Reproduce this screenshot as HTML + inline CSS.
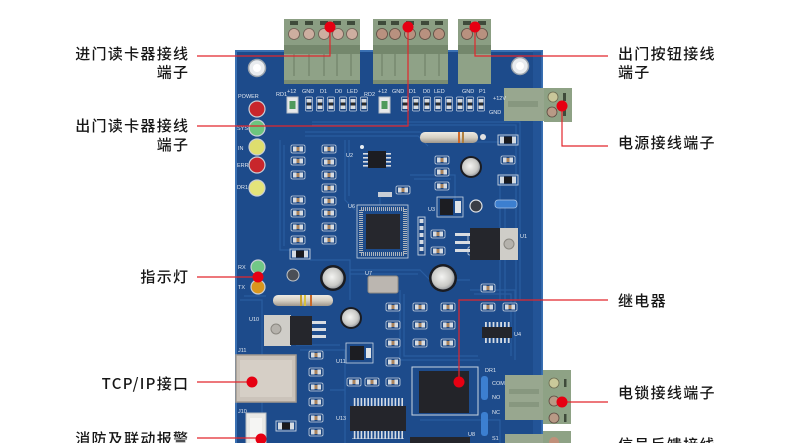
<!DOCTYPE html>
<html><head><meta charset="utf-8"><style>
html,body{margin:0;padding:0;background:#fff;}
body{width:790px;height:443px;overflow:hidden;}
svg{display:block;}
.lb{font-family:"Liberation Sans","Noto Sans CJK SC",sans-serif;font-size:15px;fill:#161616;letter-spacing:1.3px;font-weight:500;}
.cj{font-family:"Noto Sans CJK SC","WenQuanYi Zen Hei",sans-serif;}
.s{font-family:"Liberation Sans",sans-serif;font-size:5.5px;fill:#dfe6ef;}
</style></head><body>
<svg width="790" height="443" viewBox="0 0 790 443" xmlns="http://www.w3.org/2000/svg">
<defs>
<g id="p"><rect x="-7" y="-4" width="14" height="8" rx="1.5" fill="#1b4580" stroke="#c9d4e2" stroke-width="0.8"/><rect x="-5" y="-2.5" width="3.5" height="5" fill="#d6dce3"/><rect x="1.5" y="-2.5" width="3.5" height="5" fill="#d6dce3"/><rect x="-1.5" y="-2" width="3" height="4" fill="#a8825c"/></g>
<g id="v"><rect x="-3.5" y="-7" width="7" height="14" rx="1" fill="#1b4580" stroke="#c9d4e2" stroke-width="0.7"/><rect x="-2.5" y="-5" width="5" height="3.5" fill="#d6dce3"/><rect x="-2.5" y="1.5" width="5" height="3.5" fill="#d6dce3"/><rect x="-2" y="-1.5" width="4" height="3" fill="#2a2a2a"/></g>
<g id="t"><rect x="-10" y="-5" width="20" height="10" fill="none" stroke="#c9d4e2" stroke-width="0.9"/><rect x="-8" y="-3.5" width="4" height="7" fill="#d6dce3"/><rect x="4" y="-3.5" width="4" height="7" fill="#d6dce3"/><rect x="-4" y="-3.5" width="8" height="7" fill="#1a1a1e"/></g>
<radialGradient id="cap" cx="0.45" cy="0.45" r="0.6"><stop offset="0" stop-color="#f4f4f2"/><stop offset="0.7" stop-color="#c9c9c6"/><stop offset="1" stop-color="#8b8f96"/></radialGradient>
<linearGradient id="res" x1="0" y1="0" x2="0" y2="1"><stop offset="0" stop-color="#eeeae2"/><stop offset="0.5" stop-color="#d6d0c4"/><stop offset="1" stop-color="#9e978c"/></linearGradient>
</defs>

<!-- Board -->
<rect x="236" y="51" width="306" height="400" fill="#1d4b8b"/>
<rect x="236" y="51" width="306" height="400" fill="none" stroke="#3a70b2" stroke-width="2"/>
<rect x="533" y="51" width="9" height="400" fill="#2a5ea4" opacity="0.5"/>
<!-- traces -->
<g fill="none" stroke="#2b5fa3" stroke-width="1.2" opacity="0.9">
<path d="M312 122 H520 V300"/><path d="M312 125 H516 V300"/>
<path d="M305 132 H420 L430 142 H500"/><path d="M305 136 H418 L428 146"/>
<path d="M280 140 V250 H300"/><path d="M284 145 V246"/>
<path d="M345 140 V200 L355 210"/><path d="M349 140 V196"/>
<path d="M350 270 H420 L430 280 H470"/><path d="M350 274 H418"/>
<path d="M300 350 H345 V395"/><path d="M296 345 H340"/>
<path d="M400 290 V360 H480"/><path d="M404 294 V356 H478"/>
<path d="M470 290 H515 V360"/><path d="M474 294 H511 V356"/>
<path d="M410 175 H455 V200"/><path d="M414 179 H451"/>
<path d="M240 300 H262 V440"/><path d="M244 296 H266"/>
<path d="M380 195 V205"/><path d="M310 260 H350 V300"/>
<path d="M500 180 V300"/><path d="M505 200 V300 H525"/>
<path d="M420 420 H500 V443"/><path d="M330 390 H345 V443"/>
</g>

<!-- mounting holes -->
<circle cx="257" cy="68" r="8.5" fill="#e9ecef" stroke="#9aa3ad" stroke-width="1.5"/><circle cx="257" cy="68" r="4" fill="#fff"/>
<circle cx="520" cy="66" r="8.5" fill="#e9ecef" stroke="#9aa3ad" stroke-width="1.5"/><circle cx="520" cy="66" r="4" fill="#fff"/>

<!-- Terminal blocks top -->
<g>
<rect x="284" y="19" width="76" height="26" fill="#8b9e83"/>
<rect x="284" y="45" width="76" height="9" fill="#74876c"/>
<rect x="284" y="54" width="76" height="30" fill="#8fa287"/>
<rect x="284" y="80" width="76" height="4" fill="#7a8c72"/>
<g fill="#3e4a3a"><rect x="290" y="21" width="8" height="4"/><rect x="305" y="21" width="8" height="4"/><rect x="320" y="21" width="8" height="4"/><rect x="333" y="21" width="8" height="4"/><rect x="347" y="21" width="8" height="4"/></g>
<g fill="#7d8f75"><rect x="293" y="54" width="2" height="22"/><rect x="308" y="54" width="2" height="22"/><rect x="323" y="54" width="2" height="22"/><rect x="336" y="54" width="2" height="22"/><rect x="350" y="54" width="2" height="22"/></g>
<g fill="#cdaea0" stroke="#6e5b52" stroke-width="0.8"><circle cx="294" cy="34" r="5.5"/><circle cx="309" cy="34" r="5.5"/><circle cx="324" cy="34" r="5.5"/><circle cx="338" cy="34" r="5.5"/><circle cx="352" cy="34" r="5.5"/></g>

<rect x="373" y="19" width="75" height="26" fill="#8b9e83"/>
<rect x="373" y="45" width="75" height="9" fill="#74876c"/>
<rect x="373" y="54" width="75" height="30" fill="#8fa287"/>
<rect x="373" y="80" width="75" height="4" fill="#7a8c72"/>
<g fill="#3e4a3a"><rect x="378" y="21" width="8" height="4"/><rect x="391" y="21" width="8" height="4"/><rect x="406" y="21" width="8" height="4"/><rect x="421" y="21" width="8" height="4"/><rect x="435" y="21" width="8" height="4"/></g>
<g fill="#7d8f75"><rect x="381" y="54" width="2" height="22"/><rect x="394" y="54" width="2" height="22"/><rect x="424" y="54" width="2" height="22"/><rect x="438" y="54" width="2" height="22"/></g>
<g fill="#b8917f" stroke="#5e4b42" stroke-width="0.8"><circle cx="382" cy="34" r="5.5"/><circle cx="395" cy="34" r="5.5"/><circle cx="410" cy="34" r="5.5"/><circle cx="425" cy="34" r="5.5"/><circle cx="439" cy="34" r="5.5"/></g>

<rect x="458" y="19" width="33" height="26" fill="#8b9e83"/>
<rect x="458" y="45" width="33" height="9" fill="#74876c"/>
<rect x="458" y="54" width="33" height="30" fill="#8fa287"/>
<g fill="#3e4a3a"><rect x="463" y="21" width="8" height="4"/><rect x="478" y="21" width="8" height="4"/></g>
<g fill="#b8917f" stroke="#5e4b42" stroke-width="0.8"><circle cx="467" cy="34" r="5.5"/><circle cx="482" cy="34" r="5.5"/></g>
</g>

<!-- Power terminal -->
<rect x="504" y="88" width="40" height="33" fill="#98a78f"/>
<rect x="508" y="101" width="30" height="6" fill="#87977f"/>
<rect x="544" y="88" width="28" height="34" fill="#8ea285"/>
<circle cx="553" cy="97" r="5" fill="#c9c79a" stroke="#6b6a50" stroke-width="0.8"/>
<circle cx="552" cy="112" r="5" fill="#b89a86" stroke="#5e4b42" stroke-width="0.8"/>
<rect x="563" y="93" width="3" height="8" fill="#3e4a3a"/><rect x="563" y="108" width="3" height="8" fill="#3e4a3a"/>

<!-- Lock terminal -->
<rect x="505" y="375" width="38" height="45" fill="#98a78f"/>
<rect x="509" y="389" width="30" height="5" fill="#87977f"/><rect x="509" y="402" width="30" height="5" fill="#87977f"/>
<rect x="543" y="370" width="28" height="54" fill="#8ea285"/>
<circle cx="554" cy="383" r="5" fill="#c9c99a" stroke="#6b6a50" stroke-width="0.8"/>
<circle cx="554" cy="401" r="5" fill="#b89a86" stroke="#5e4b42" stroke-width="0.8"/>
<circle cx="554" cy="418" r="5" fill="#b89a86" stroke="#5e4b42" stroke-width="0.8"/>
<rect x="564" y="379" width="2.5" height="8" fill="#3e4a3a"/><rect x="564" y="414" width="2.5" height="8" fill="#3e4a3a"/>
<!-- bottom partial terminal -->
<rect x="505" y="434" width="38" height="12" fill="#98a78f"/>
<rect x="543" y="431" width="28" height="15" fill="#8ea285"/>
<circle cx="554" cy="442" r="5" fill="#c0907a"/>

<!-- Silk labels -->
<text class="s" x="287" y="93">+12</text><text class="s" x="302" y="93">GND</text><text class="s" x="320" y="93">D1</text><text class="s" x="335" y="93">D0</text><text class="s" x="347" y="93">LED</text>
<text class="s" x="276" y="96">RD1</text><text class="s" x="364" y="96">RD2</text>
<text class="s" x="378" y="93">+12</text><text class="s" x="392" y="93">GND</text><text class="s" x="409" y="93">D1</text><text class="s" x="423" y="93">D0</text><text class="s" x="434" y="93">LED</text>
<text class="s" x="462" y="93">GND</text><text class="s" x="479" y="93">P1</text>
<text class="s" x="493" y="100">+12V</text><text class="s" x="489" y="114">GND</text>
<text class="s" x="238" y="98">POWER</text><text class="s" x="237" y="130">SYS</text><text class="s" x="238" y="150">IN</text><text class="s" x="237" y="167">ERR</text><text class="s" x="237" y="189">DR1</text>
<text class="s" x="238" y="269">RX</text><text class="s" x="238" y="289">TX</text>
<text class="s" x="346" y="157">U2</text><text class="s" x="348" y="208">U6</text><text class="s" x="365" y="275">U7</text><text class="s" x="520" y="238">U1</text>
<text class="s" x="249" y="321">U10</text><text class="s" x="238" y="352">J11</text><text class="s" x="238" y="413">J10</text><text class="s" x="336" y="420">U13</text>
<text class="s" x="336" y="363">U11</text><text class="s" x="428" y="211">U3</text><text class="s" x="514" y="336">U4</text>
<text class="s" x="485" y="372">DR1</text><text class="s" x="492" y="385">COM</text><text class="s" x="492" y="399">NO</text><text class="s" x="492" y="414">NC</text><text class="s" x="468" y="436">U8</text><text class="s" x="492" y="440">S1</text>

<!-- fuses -->
<rect x="287" y="97" width="11" height="16" fill="#e6e8ea" stroke="#b9c0c8"/><rect x="289.5" y="101" width="6" height="8" fill="#4f9a5c"/>
<rect x="379" y="97" width="11" height="16" fill="#e6e8ea" stroke="#b9c0c8"/><rect x="381.5" y="101" width="6" height="8" fill="#4f9a5c"/>
<!-- small resistor row -->
<use href="#v" x="309" y="104"/><use href="#v" x="320" y="104"/><use href="#v" x="331" y="104"/><use href="#v" x="343" y="104"/><use href="#v" x="353" y="104"/><use href="#v" x="364" y="104"/>
<use href="#v" x="405" y="104"/><use href="#v" x="416" y="104"/><use href="#v" x="427" y="104"/><use href="#v" x="438" y="104"/><use href="#v" x="449" y="104"/><use href="#v" x="460" y="104"/><use href="#v" x="470" y="104"/><use href="#v" x="481" y="104"/>

<!-- LEDs -->
<g stroke="#c9ced6" stroke-width="1.2">
<circle cx="257" cy="109" r="8" fill="#c8262c"/>
<circle cx="257" cy="128" r="8" fill="#6cc57e"/>
<circle cx="257" cy="147" r="8" fill="#dede6e"/>
<circle cx="257" cy="165" r="8" fill="#c8262c"/>
<circle cx="257" cy="188" r="8" fill="#e4e47a"/>
<circle cx="258" cy="267" r="7" fill="#72c886"/>
<circle cx="258" cy="287" r="7" fill="#d9961e"/>
</g>

<!-- pads columns -->
<use href="#p" x="298" y="149"/><use href="#p" x="298" y="161"/><use href="#p" x="298" y="175"/><use href="#p" x="298" y="200"/><use href="#p" x="298" y="213"/><use href="#p" x="298" y="227"/><use href="#p" x="298" y="240"/>
<use href="#p" x="329" y="149"/><use href="#p" x="329" y="162"/><use href="#p" x="329" y="175"/><use href="#p" x="329" y="188"/><use href="#p" x="329" y="201"/><use href="#p" x="329" y="213"/><use href="#p" x="329" y="227"/><use href="#p" x="329" y="240"/>
<use href="#t" x="300" y="254"/>
<use href="#p" x="316" y="355"/><use href="#p" x="316" y="372"/><use href="#p" x="316" y="387"/><use href="#p" x="316" y="402"/><use href="#p" x="316" y="418"/><use href="#p" x="316" y="432"/>
<use href="#t" x="286" y="426"/>
<use href="#p" x="393" y="307"/><use href="#p" x="393" y="325"/><use href="#p" x="393" y="343"/><use href="#p" x="393" y="362"/><use href="#p" x="393" y="382"/>
<use href="#p" x="420" y="307"/><use href="#p" x="420" y="325"/><use href="#p" x="420" y="343"/>
<use href="#p" x="448" y="307"/><use href="#p" x="448" y="325"/><use href="#p" x="448" y="343"/>
<use href="#p" x="488" y="288"/><use href="#p" x="488" y="307"/><use href="#p" x="510" y="307"/>
<use href="#p" x="354" y="382"/><use href="#p" x="372" y="382"/>
<use href="#p" x="442" y="160"/><use href="#p" x="442" y="172"/><use href="#p" x="442" y="186"/><use href="#p" x="403" y="190"/>
<use href="#p" x="438" y="234"/><use href="#p" x="438" y="251"/><use href="#p" x="508" y="160"/><use href="#p" x="475" y="238"/><use href="#p" x="475" y="251"/>
<use href="#t" x="508" y="140"/><use href="#t" x="508" y="180"/>

<!-- big resistors -->
<rect x="420" y="132" width="58" height="11" rx="5" fill="url(#res)"/><rect x="458" y="132" width="2" height="11" fill="#d06a2a"/><rect x="462" y="132" width="2" height="11" fill="#b08040"/><circle cx="483" cy="137" r="3" fill="#e0e0e0"/>
<rect x="273" y="295" width="60" height="11" rx="5" fill="url(#res)"/><rect x="300" y="295" width="2" height="11" fill="#c8a030"/><rect x="304" y="295" width="2" height="11" fill="#d6c040"/><rect x="310" y="295" width="2" height="11" fill="#c86a2a"/>

<!-- electrolytic caps -->
<circle cx="471" cy="167" r="11" fill="#1a1c22"/><circle cx="471" cy="167" r="9" fill="url(#cap)"/>
<circle cx="443" cy="278" r="14" fill="#1a1c22"/><circle cx="443" cy="278" r="11.5" fill="url(#cap)"/>
<circle cx="333" cy="278" r="13" fill="#1a1c22"/><circle cx="333" cy="278" r="10.5" fill="url(#cap)"/>
<circle cx="351" cy="318" r="11" fill="#1a1c22"/><circle cx="351" cy="318" r="9" fill="url(#cap)"/>
<circle cx="293" cy="275" r="6" fill="#4a4e56" stroke="#c0c4c8"/>
<circle cx="476" cy="206" r="6" fill="#3a3e46" stroke="#dfe3e8" stroke-width="1.2"/>

<!-- U2 -->
<g fill="#d9dde2"><rect x="363" y="153" width="5" height="1.6"/><rect x="363" y="157" width="5" height="1.6"/><rect x="363" y="161" width="5" height="1.6"/><rect x="363" y="165" width="5" height="1.6"/><rect x="386" y="153" width="5" height="1.6"/><rect x="386" y="157" width="5" height="1.6"/><rect x="386" y="161" width="5" height="1.6"/><rect x="386" y="165" width="5" height="1.6"/></g>
<rect x="368" y="151" width="18" height="17" fill="#1c1d22"/>
<circle cx="362" cy="147" r="2" fill="#e8eef4"/>
<!-- U6 QFP -->
<rect x="357" y="205" width="51" height="53" fill="none" stroke="#c9d4e2" stroke-width="0.8"/>
<rect x="361" y="209" width="44" height="45" fill="none" stroke="#aeb4bc" stroke-width="4" stroke-dasharray="1 1"/>
<rect x="366" y="214" width="34" height="35" fill="#26272d"/>
<rect x="378" y="192" width="14" height="5" fill="#c9ced6"/>
<!-- header -->
<rect x="418" y="217" width="7" height="38" fill="#1b4684" stroke="#c9d4e2" stroke-width="0.9"/>
<g fill="#d6dce3"><rect x="419.5" y="219" width="4" height="4"/><rect x="419.5" y="226" width="4" height="4"/><rect x="419.5" y="233" width="4" height="4"/><rect x="419.5" y="240" width="4" height="4"/><rect x="419.5" y="247" width="4" height="4"/></g>
<!-- U3 -->
<rect x="437" y="197" width="26" height="20" fill="none" stroke="#c9d4e2" stroke-width="0.8"/><rect x="440" y="199" width="13" height="16" fill="#1c1d22"/><rect x="455" y="201" width="6" height="12" fill="#e0e4e8"/>
<!-- blue cap -->
<rect x="495" y="200" width="22" height="8" rx="3" fill="#3c7fd0" stroke="#a9c4e6" stroke-width="0.8"/>
<!-- U1 TO-220 -->
<g fill="#d9dde2"><rect x="455" y="233" width="16" height="3"/><rect x="455" y="241" width="16" height="3"/><rect x="455" y="249" width="16" height="3"/></g>
<rect x="470" y="228" width="30" height="32" fill="#25262c"/>
<rect x="500" y="228" width="18" height="32" fill="#cfcdc8"/><circle cx="509" cy="244" r="5" fill="#b5b2ac" stroke="#8a8780"/>
<!-- U7 crystal -->
<rect x="368" y="276" width="30" height="17" rx="2" fill="#bbb6b0" stroke="#8d8882"/>
<!-- U10 TO-220 -->
<rect x="264" y="315" width="27" height="31" fill="#cfcdc8"/><circle cx="276" cy="329" r="5" fill="#b5b2ac" stroke="#8a8780"/>
<rect x="290" y="316" width="22" height="29" fill="#25262c"/>
<g fill="#d9dde2"><rect x="312" y="321" width="14" height="3"/><rect x="312" y="328" width="14" height="3"/><rect x="312" y="335" width="14" height="3"/></g>
<!-- U11 -->
<rect x="346" y="343" width="27" height="20" fill="none" stroke="#c9d4e2" stroke-width="0.8"/><rect x="350" y="346" width="14" height="14" fill="#1c1d22"/><rect x="366" y="348" width="5" height="10" fill="#e0e4e8"/>
<!-- J11 -->
<rect x="236" y="355" width="60" height="47" fill="#cbc3ba" stroke="#a39a90" stroke-width="1.5"/>
<rect x="240" y="360" width="52" height="37" fill="#d6cfc6"/>
<!-- J10 -->
<rect x="246" y="413" width="20" height="32" fill="#e9e9e6" stroke="#b8bcc0"/>
<rect x="250" y="418" width="12" height="28" fill="#f5f5f3"/>
<!-- U13 -->
<rect x="352" y="398" width="52" height="9" fill="#d6dce3"/>
<line x1="352" y1="402" x2="404" y2="402" stroke="#1d4b8b" stroke-width="9" stroke-dasharray="1.8 1.6"/>
<rect x="352" y="430" width="52" height="9" fill="#d6dce3"/>
<line x1="352" y1="434" x2="404" y2="434" stroke="#1d4b8b" stroke-width="9" stroke-dasharray="1.8 1.6"/>
<rect x="350" y="406" width="56" height="25" fill="#24252b"/>
<!-- U4 -->
<rect x="483" y="322" width="28" height="5" fill="#d6dce3"/><line x1="483" y1="324.5" x2="511" y2="324.5" stroke="#1d4b8b" stroke-width="5" stroke-dasharray="2 1.8"/>
<rect x="483" y="338" width="28" height="5" fill="#d6dce3"/><line x1="483" y1="340.5" x2="511" y2="340.5" stroke="#1d4b8b" stroke-width="5" stroke-dasharray="2 1.8"/>
<rect x="482" y="327" width="30" height="11" fill="#24252b"/>
<!-- Relay -->
<rect x="412" y="367" width="66" height="48" fill="none" stroke="#c9d4e2" stroke-width="1"/>
<rect x="419" y="371" width="50" height="42" fill="#232429"/>
<!-- blue caps -->
<rect x="481" y="376" width="7" height="24" rx="3" fill="#3c7fd0"/>
<rect x="481" y="412" width="7" height="24" rx="3" fill="#3c7fd0"/>
<!-- U8 area -->
<rect x="410" y="437" width="60" height="10" fill="#24252b"/>

<!-- Red leader lines -->
<g fill="none" stroke="#e2262c" stroke-width="1.2">
<polyline points="330,27 330,56 197,56"/>
<polyline points="408,27 408,126 197,126"/>
<polyline points="475,27 475,56 608,56"/>
<polyline points="562,106 562,146 608,146"/>
<line x1="197" y1="277" x2="258" y2="277"/>
<line x1="197" y1="382" x2="252" y2="382"/>
<line x1="197" y1="438" x2="261" y2="438"/>
<polyline points="459,382 459,300 608,300"/>
<line x1="562" y1="402" x2="608" y2="402"/>
</g>
<g fill="#e60012">
<circle cx="330" cy="27" r="5.5"/><circle cx="408" cy="27" r="5.5"/><circle cx="475" cy="27" r="5.5"/>
<circle cx="562" cy="106" r="5.5"/><circle cx="258" cy="277" r="5.5"/><circle cx="252" cy="382" r="5.5"/>
<circle cx="261" cy="439" r="5.5"/><circle cx="459" cy="382" r="5.5"/><circle cx="562" cy="402" r="5.5"/>
</g>

<!-- Labels -->
<g class="lb cj">
<text x="189.3" y="59" text-anchor="end">进门读卡器接线</text>
<text x="189.3" y="77.5" text-anchor="end">端子</text>
<text x="189.3" y="131" text-anchor="end">出门读卡器接线</text>
<text x="189.3" y="150" text-anchor="end">端子</text>
<text x="189.3" y="282" text-anchor="end">指示灯</text>
<text x="189.3" y="389" text-anchor="end">TCP/IP接口</text>
<text x="189.3" y="444" text-anchor="end">消防及联动报警</text>
<text x="618" y="59">出门按钮接线</text>
<text x="618" y="77.5">端子</text>
<text x="618" y="148">电源接线端子</text>
<text x="618" y="306">继电器</text>
<text x="618" y="398">电锁接线端子</text>
<text x="618" y="450">信号反馈接线</text>
</g>
</svg>
</body></html>
